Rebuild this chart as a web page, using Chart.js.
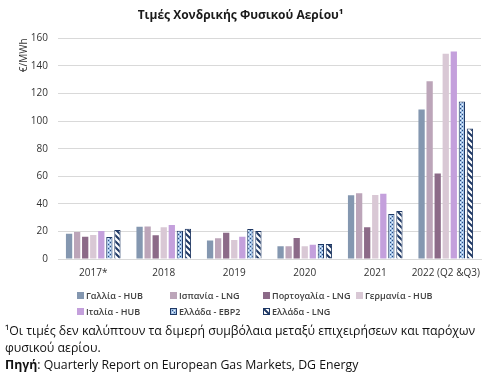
<!DOCTYPE html>
<html>
<head>
<meta charset="utf-8">
<script src="https://cdn.jsdelivr.net/npm/chart.js@4/dist/chart.umd.min.js"></script>
<style>
  html, body { margin: 0; padding: 0; background: #fff; }
  #wrap { position: relative; width: 486px; height: 378px; overflow: hidden; font-family: "Open Sans", sans-serif; }
  #wrap canvas#c { position: absolute; left: 0; top: 0; }
  #legend { position: absolute; left: 77px; top: 289px; width: 400px; font-size: 9px; font-weight: 600; color: #404040; }
  .li { position: absolute; display: flex; align-items: center; white-space: nowrap; }
  .li canvas { margin-right: 2px; }
  #foot { position: absolute; left: 5px; top: 322px; width: 481px; font-size: 12.3px; line-height: 17px; color: #111; }
</style>
</head>
<body>
<div id="wrap">
  <canvas id="c" width="486" height="378"></canvas>
  <div id="legend"></div>
  <div id="foot">¹Οι τιμές δεν καλύπτουν τα διμερή συμβόλαια μεταξύ επιχειρήσεων και παρόχων φυσικού αερίου.<br><b>Πηγή</b>: Quarterly Report on European Gas Markets, DG Energy</div>
</div>
<script>
const categories = ['2017*', '2018', '2019', '2020', '2021', '2022 (Q2 &Q3)'];
const seriesNames = ['Γαλλία - HUB', 'Ισπανία - LNG', 'Πορτογαλία - LNG', 'Γερμανία - HUB', 'Ιταλία - HUB', 'Ελλάδα - ΕΒΡ2', 'Ελλάδα - LNG'];
const franceHub   = [18.3, 23.4, 13.5, 9.2, 46.2, 108.5];
const spainLng    = [19.6, 23.6, 15.0, 9.2, 47.6, 129.0];
const portugalLng = [16.2, 17.2, 19.0, 15.2, 23.0, 62.0];
const germanyHub  = [17.4, 23.0, 13.8, 9.2, 46.4, 148.8];
const italyHub    = [20.3, 24.6, 16.2, 10.4, 47.3, 150.5];
const greeceEbp2  = [15.9, 20.5, 21.7, 10.9, 32.6, 114.3];
const greeceLng   = [21.0, 22.0, 20.3, 10.9, 34.8, 94.7];
const yTicks = [0, 20, 40, 60, 80, 100, 120, 140, 160];

const NAVY = '#1f3864';

function checkPattern() {
  const p = document.createElement('canvas');
  p.width = 4; p.height = 4;
  const g = p.getContext('2d');
  g.fillStyle = '#9fc0e6'; g.fillRect(0, 0, 4, 4);
  g.fillStyle = '#2c4a7c';
  g.fillRect(0, 0, 1, 1); g.fillRect(2, 2, 1, 1);
  g.fillStyle = '#eef4fb';
  g.fillRect(2, 0, 1, 1); g.fillRect(0, 2, 1, 1);
  return g.createPattern(p, 'repeat');
}
function stripePattern() {
  const s = 6;
  const p = document.createElement('canvas');
  p.width = s; p.height = s;
  const g = p.getContext('2d');
  g.fillStyle = '#ffffff'; g.fillRect(0, 0, s, s);
  g.strokeStyle = NAVY; g.lineWidth = 2;
  g.beginPath();
  g.moveTo(-1, -1); g.lineTo(s + 1, s + 1);
  g.moveTo(-1, s - 1); g.lineTo(1, s + 1);
  g.moveTo(s - 1, -1); g.lineTo(s + 1, 1);
  g.stroke();
  return g.createPattern(p, 'repeat');
}

const fills = ['#8497b0', '#bca5b9', '#8c6a88', '#d9c8d5', '#c4a0dc', checkPattern(), stripePattern()];
const seriesData = [franceHub, spainLng, portugalLng, germanyHub, italyHub, greeceEbp2, greeceLng];

const datasets = seriesData.map((d, i) => ({
  label: seriesNames[i],
  data: d,
  backgroundColor: fills[i],
  borderColor: i >= 5 ? NAVY : fills[i],
  borderWidth: i >= 5 ? 1 : 0,
  categoryPercentage: 0.8,
  barPercentage: 0.78
}));

const font = "'Open Sans', sans-serif";
const chart = new Chart(document.getElementById('c'), {
  type: 'bar',
  data: { labels: categories, datasets },
  options: {
    responsive: false,
    animation: false,
    devicePixelRatio: 1,
    layout: { padding: { left: 0, right: 5, top: 0, bottom: 99 } },
    plugins: {
      legend: { display: false },
      tooltip: { enabled: false },
      title: {
        display: true,
        text: 'Τιμές Χονδρικής Φυσικού Αερίου¹',
        color: '#1a1a1a',
        font: { family: font, size: 12, weight: 'bold' },
        padding: { top: 8, bottom: 16 }
      }
    },
    scales: {
      x: {
        grid: { display: false },
        border: { display: true, color: '#d9d9d9' },
        ticks: { color: '#333', font: { family: font, size: 10 }, padding: 0, maxRotation: 0, autoSkip: false }
      },
      y: {
        min: 0, max: 160,
        afterBuildTicks: s => { s.ticks = yTicks.map(v => ({ value: v })); },
        afterFit: s => { s.width = 58; },
        grid: { color: '#d9d9d9', drawTicks: false },
        border: { display: false },
        ticks: { color: '#333', font: { family: font, size: 10 }, padding: 10 },
        title: { display: true, text: '€/MWh', align: 'end', color: '#333', font: { family: font, size: 10 }, padding: { top: 18, bottom: 0 } }
      }
    }
  }
});

// legend built from chart datasets
const leg = document.getElementById('legend');
chart.data.datasets.forEach((ds, i) => {
  const col = i % 4, row = Math.floor(i / 4);
  const item = document.createElement('div');
  item.className = 'li';
  item.style.left = (col * 93) + 'px';
  item.style.top = (row * 16) + 'px';
  const sw = document.createElement('canvas');
  sw.width = 7; sw.height = 7;
  const g = sw.getContext('2d');
  g.fillStyle = ds.backgroundColor; g.fillRect(0, 0, 7, 7);
  if (ds.borderWidth) { g.strokeStyle = ds.borderColor; g.lineWidth = 1; g.strokeRect(0.5, 0.5, 6, 6); }
  item.appendChild(sw);
  const t = document.createElement('span');
  t.textContent = ds.label;
  item.appendChild(t);
  leg.appendChild(item);
});
</script>
</body>
</html>
